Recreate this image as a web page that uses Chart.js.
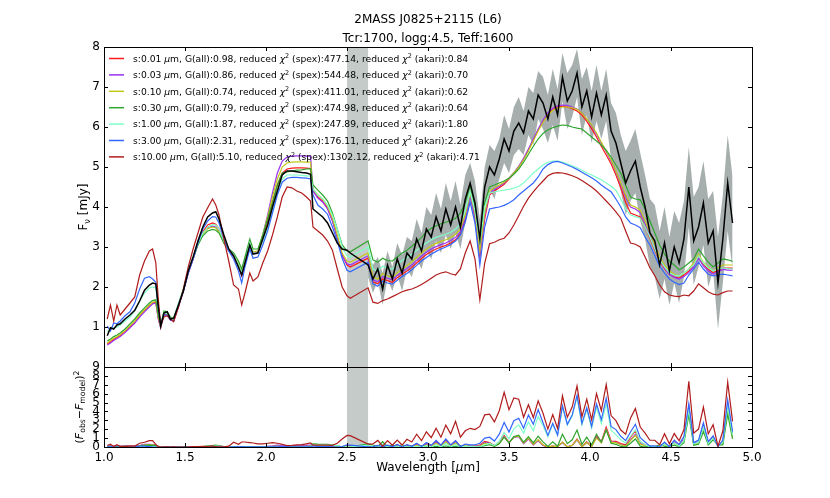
<!DOCTYPE html>
<html>
<head>
<meta charset="utf-8">
<script src="https://cdn.jsdelivr.net/npm/chart.js@4.4.1/dist/chart.umd.min.js"></script>
<style>
  html, body { margin: 0; padding: 0; background: #fff; }
  #wrap { position: relative; width: 830px; height: 498px; }
  #wrap canvas { position: absolute; left: 0; top: 0; }
</style>
</head>
<body>
<div id="wrap">
  <canvas id="spec" width="830" height="498"></canvas>
  <canvas id="resid" width="830" height="498"></canvas>
</div>
<script>
// wavelength grid [um]: SpeX part (1.02-2.52) then AKARI part (2.63-4.88)
const wavelength = [
  1.02, 1.04, 1.06, 1.08, 1.10, 1.13, 1.16, 1.19, 1.22, 1.25, 1.28, 1.30, 1.32, 1.335, 1.35,
  1.37, 1.39, 1.41, 1.43, 1.46, 1.49, 1.52, 1.55, 1.58, 1.61, 1.64, 1.67, 1.69, 1.71, 1.74,
  1.77, 1.80, 1.83, 1.85, 1.87, 1.90, 1.92, 1.95, 1.98, 2.01, 2.04, 2.07, 2.10, 2.13, 2.16,
  2.19, 2.22, 2.25, 2.275, 2.29, 2.32, 2.35, 2.38, 2.41, 2.44, 2.47, 2.50, 2.52,
  2.63, 2.66, 2.69, 2.72, 2.75, 2.78, 2.81, 2.84, 2.87, 2.90, 2.93, 2.96, 2.99,
  3.02, 3.05, 3.08, 3.11, 3.14, 3.17, 3.20, 3.23, 3.26, 3.29, 3.32,
  3.35, 3.38, 3.41, 3.44, 3.47, 3.50, 3.53, 3.56, 3.59, 3.62, 3.65, 3.68, 3.71,
  3.74, 3.77, 3.80, 3.83, 3.86, 3.89, 3.92, 3.95, 3.98, 4.01, 4.04, 4.07, 4.10,
  4.13, 4.16, 4.19, 4.22, 4.25, 4.28, 4.31, 4.34, 4.37, 4.40, 4.43, 4.46, 4.49,
  4.52, 4.55, 4.58, 4.61, 4.64, 4.67, 4.70, 4.73, 4.76, 4.79, 4.82, 4.85, 4.88
];

// observed flux [mJy]
const observed = [
  0.78, 0.98, 0.95, 1.05, 1.08, 1.20, 1.30, 1.42, 1.65, 1.92, 2.05, 2.10, 2.08, 1.50, 1.02,
  1.35, 1.38, 1.20, 1.22, 1.55, 1.90, 2.40, 2.75, 3.15, 3.50, 3.75, 3.85, 3.88, 3.70, 3.30,
  2.95, 2.78, 2.50, 2.30, 2.60, 3.05, 2.82, 2.85, 3.20, 3.55, 4.00, 4.40, 4.80, 4.90, 4.90,
  4.88, 4.86, 4.85, 4.82, 3.95, 3.85, 3.75, 3.60, 3.35, 3.10, 2.95, 2.92, 2.85,
  2.55, 2.20, 2.45, 1.95, 2.55, 2.20, 2.70, 2.35, 2.85, 2.70, 3.20, 2.90, 3.45,
  3.25, 3.75, 3.40, 3.95, 3.55, 4.00, 3.50, 4.20, 4.60, 4.10, 3.20,
  4.50, 5.00, 4.80, 5.20, 5.70, 5.40, 5.90, 6.10, 5.85, 6.40, 6.20, 6.80, 6.60,
  6.20, 6.75, 6.30, 7.25, 6.65, 6.90, 7.35, 6.50, 6.90, 6.25, 6.85, 6.30, 6.80,
  5.90, 5.60, 5.10, 4.60, 4.90, 5.15, 4.50, 4.00, 3.35, 3.15, 2.55, 3.10, 2.40,
  3.00, 2.60, 3.20, 4.50, 3.15, 3.50, 4.10, 3.10, 3.40, 2.10, 3.20, 4.60, 3.60
];

// 1-sigma error of the AKARI spectrum (no band shown for SpeX)
const observedErr = [
  null, null, null, null, null, null, null, null, null, null, null, null, null, null, null,
  null, null, null, null, null, null, null, null, null, null, null, null, null, null, null,
  null, null, null, null, null, null, null, null, null, null, null, null, null, null, null,
  null, null, null, null, null, null, null, null, null, null, null, null, null,
  0.30, 0.35, 0.30, 0.40, 0.35, 0.30, 0.40, 0.45, 0.40, 0.45, 0.50, 0.45, 0.55,
  0.55, 0.60, 0.55, 0.65, 0.60, 0.65, 0.55, 0.60, 0.50, 0.55, 0.50,
  0.50, 0.55, 0.60, 0.50, 0.60, 0.55, 0.60, 0.65, 0.55, 0.60, 0.65, 0.60, 0.65,
  0.60, 0.70, 0.65, 0.60, 0.70, 0.65, 0.60, 0.70, 0.60, 0.65, 0.70, 0.60, 0.65,
  0.70, 0.75, 0.70, 0.80, 0.75, 0.80, 0.85, 0.80, 0.85, 0.90, 0.85, 0.90, 0.85,
  0.90, 1.00, 0.95, 1.00, 1.10, 1.00, 1.05, 1.10, 1.00, 1.15, 1.10, 1.20, 1.15
];

// model spectra, one per grain size
const model001 = [
  0.58, 0.63, 0.69, 0.74, 0.79, 0.89, 1.00, 1.13, 1.28, 1.41, 1.53, 1.60, 1.62, 1.22, 0.99,
  1.32, 1.31, 1.18, 1.16, 1.53, 1.90, 2.35, 2.70, 3.10, 3.38, 3.55, 3.60, 3.57, 3.45, 3.12,
  2.90, 2.76, 2.52, 2.28, 2.60, 3.08, 2.83, 2.86, 3.22, 3.65, 4.12, 4.55, 4.85, 4.95, 4.97,
  4.98, 4.98, 4.97, 4.96, 4.42, 4.25, 4.15, 3.97, 3.67, 3.25, 2.80, 2.55, 2.50,
  2.72, 2.13, 2.08, 2.20, 2.16, 2.12, 2.23, 2.32, 2.40, 2.49, 2.60, 2.71, 2.81,
  2.89, 2.95, 3.00, 3.04, 3.10, 3.18, 3.33, 3.70, 4.33, 3.75, 2.75,
  3.70, 4.30, 4.40, 4.48, 4.57, 4.70, 4.84, 5.00, 5.20, 5.43, 5.68, 5.92, 6.14,
  6.32, 6.44, 6.50, 6.52, 6.50, 6.46, 6.40, 6.30, 6.14, 5.96, 5.75, 5.52, 5.30,
  5.08, 4.80, 4.48, 4.12, 3.85, 3.80, 3.75, 3.50, 3.22, 2.92, 2.65, 2.46, 2.32,
  2.25, 2.22, 2.30, 2.40, 2.55, 2.75, 2.56, 2.45, 2.36, 2.42, 2.48, 2.47, 2.47
];
const model003 = [
  0.55, 0.60, 0.66, 0.71, 0.76, 0.86, 0.98, 1.10, 1.25, 1.38, 1.50, 1.58, 1.60, 1.20, 0.98,
  1.30, 1.30, 1.17, 1.15, 1.52, 1.90, 2.35, 2.70, 3.08, 3.35, 3.48, 3.52, 3.50, 3.40, 3.10,
  2.90, 2.78, 2.55, 2.30, 2.62, 3.10, 2.85, 2.88, 3.30, 3.80, 4.35, 4.85, 5.15, 5.25, 5.27,
  5.28, 5.28, 5.27, 5.27, 4.40, 4.22, 4.12, 3.95, 3.65, 3.22, 2.78, 2.58, 2.55,
  2.78, 2.18, 2.13, 2.26, 2.22, 2.18, 2.29, 2.38, 2.46, 2.55, 2.66, 2.77, 2.87,
  2.95, 3.01, 3.06, 3.10, 3.16, 3.24, 3.38, 3.72, 4.28, 3.78, 2.82,
  3.78, 4.35, 4.44, 4.52, 4.60, 4.72, 4.86, 5.02, 5.22, 5.45, 5.70, 5.95, 6.17,
  6.35, 6.47, 6.53, 6.55, 6.54, 6.50, 6.45, 6.36, 6.20, 6.03, 5.82, 5.60, 5.38,
  5.15, 4.88, 4.57, 4.25, 4.00, 3.95, 3.86, 3.58, 3.28, 2.98, 2.68, 2.48, 2.32,
  2.24, 2.20, 2.26, 2.36, 2.50, 2.72, 2.52, 2.40, 2.32, 2.38, 2.44, 2.42, 2.42
];
const model010 = [
  0.60, 0.66, 0.72, 0.76, 0.81, 0.91, 1.03, 1.15, 1.30, 1.43, 1.55, 1.62, 1.64, 1.25, 1.00,
  1.35, 1.33, 1.20, 1.18, 1.55, 1.93, 2.38, 2.72, 3.08, 3.33, 3.46, 3.50, 3.48, 3.38, 3.10,
  2.92, 2.80, 2.58, 2.35, 2.65, 3.12, 2.88, 2.90, 3.30, 3.75, 4.25, 4.70, 5.00, 5.10, 5.12,
  5.13, 5.13, 5.12, 5.12, 4.45, 4.30, 4.20, 4.02, 3.72, 3.30, 2.85, 2.65, 2.62,
  2.85, 2.25, 2.20, 2.33, 2.28, 2.24, 2.35, 2.45, 2.53, 2.63, 2.74, 2.85, 2.95,
  3.03, 3.09, 3.14, 3.18, 3.24, 3.32, 3.45, 3.80, 4.35, 3.85, 2.90,
  3.85, 4.40, 4.48, 4.55, 4.62, 4.72, 4.85, 5.00, 5.18, 5.40, 5.65, 5.90, 6.12,
  6.30, 6.42, 6.48, 6.50, 6.50, 6.48, 6.44, 6.35, 6.20, 6.05, 5.85, 5.62, 5.40,
  5.18, 4.90, 4.60, 4.30, 4.05, 4.00, 3.92, 3.65, 3.35, 3.05, 2.75, 2.55, 2.40,
  2.32, 2.28, 2.35, 2.45, 2.60, 2.82, 2.62, 2.50, 2.40, 2.48, 2.55, 2.55, 2.55
];
const model030 = [
  0.65, 0.70, 0.76, 0.80, 0.85, 0.95, 1.08, 1.20, 1.35, 1.48, 1.60, 1.66, 1.68, 1.30, 1.05,
  1.40, 1.38, 1.25, 1.22, 1.58, 1.95, 2.40, 2.72, 3.05, 3.28, 3.40, 3.44, 3.42, 3.35, 3.10,
  2.95, 2.85, 2.65, 2.45, 2.75, 3.20, 2.95, 2.95, 3.30, 3.70, 4.10, 4.55, 4.85, 4.88, 4.90,
  4.92, 4.93, 4.95, 4.96, 4.55, 4.42, 4.30, 4.15, 3.85, 3.45, 3.05, 2.90, 2.88,
  3.15, 2.68, 2.62, 2.72, 2.66, 2.65, 2.75, 2.85, 2.92, 3.02, 3.12, 3.24, 3.38,
  3.47, 3.53, 3.58, 3.62, 3.66, 3.72, 3.85, 4.12, 4.52, 4.05, 3.15,
  4.10, 4.50, 4.55, 4.60, 4.65, 4.72, 4.82, 4.95, 5.12, 5.32, 5.52, 5.70, 5.84,
  5.93, 5.98, 6.02, 6.05, 6.04, 6.00, 5.97, 5.95, 5.85, 5.75, 5.65, 5.55, 5.42,
  5.25, 5.05, 4.85, 4.55, 4.25, 4.20, 4.18, 3.95, 3.65, 3.35, 3.05, 2.82, 2.65,
  2.55, 2.43, 2.50, 2.60, 2.70, 2.95, 2.78, 2.62, 2.50, 2.60, 2.70, 2.68, 2.64
];
const model100 = [
  0.88, 0.95, 0.98, 1.00, 1.05, 1.15, 1.25, 1.40, 1.65, 1.85, 1.98, 2.00, 1.98, 1.45, 1.08,
  1.35, 1.33, 1.22, 1.20, 1.58, 1.95, 2.40, 2.75, 3.10, 3.35, 3.50, 3.56, 3.55, 3.45, 3.15,
  2.95, 2.80, 2.55, 2.35, 2.60, 3.10, 2.85, 2.85, 3.15, 3.50, 3.95, 4.40, 4.70, 4.80, 4.80,
  4.80, 4.79, 4.78, 4.77, 4.45, 4.30, 4.20, 4.05, 3.80, 3.45, 3.00, 2.78, 2.75,
  3.00, 2.45, 2.40, 2.52, 2.47, 2.45, 2.56, 2.66, 2.73, 2.82, 2.92, 3.02, 3.10,
  3.18, 3.24, 3.28, 3.32, 3.37, 3.45, 3.58, 3.90, 4.38, 3.90, 3.12,
  4.00, 4.35, 4.38, 4.40, 4.42, 4.44, 4.47, 4.52, 4.60, 4.72, 4.85, 4.95, 5.05,
  5.12, 5.15, 5.15, 5.12, 5.08, 5.03, 4.98, 4.92, 4.85, 4.80, 4.74, 4.68, 4.60,
  4.52, 4.42, 4.20, 3.95, 3.80, 3.76, 3.72, 3.50, 3.25, 2.95, 2.68, 2.50, 2.35,
  2.30, 2.28, 2.35, 2.45, 2.55, 2.78, 2.60, 2.48, 2.40, 2.45, 2.48, 2.46, 2.45
];
const model300 = [
  1.02, 0.90, 1.10, 1.08, 1.15, 1.28, 1.38, 1.60, 1.95, 2.22, 2.26, 2.20, 2.12, 1.50, 1.05,
  1.30, 1.30, 1.18, 1.15, 1.55, 1.90, 2.35, 2.70, 3.10, 3.45, 3.65, 3.76, 3.75, 3.60, 3.20,
  2.90, 2.70, 2.40, 2.10, 2.50, 2.95, 2.72, 2.75, 3.05, 3.40, 3.85, 4.30, 4.62, 4.72, 4.74,
  4.74, 4.73, 4.72, 4.70, 4.30, 4.05, 3.95, 3.82, 3.50, 3.15, 2.72, 2.42, 2.38,
  2.62, 2.08, 2.02, 2.15, 2.10, 2.07, 2.17, 2.26, 2.34, 2.43, 2.54, 2.65, 2.74,
  2.82, 2.89, 2.95, 3.00, 3.06, 3.15, 3.30, 3.62, 4.12, 3.60, 2.55,
  3.50, 3.95, 3.98, 4.00, 4.04, 4.10, 4.18, 4.30, 4.40, 4.50, 4.60, 4.75, 4.95,
  5.06, 5.12, 5.14, 5.10, 5.05, 5.00, 4.94, 4.87, 4.80, 4.73, 4.65, 4.55, 4.46,
  4.38, 4.20, 4.00, 3.75, 3.60, 3.55, 3.48, 3.25, 3.05, 2.78, 2.52, 2.35, 2.20,
  2.12, 2.06, 2.10, 2.30, 2.45, 2.62, 2.45, 2.32, 2.28, 2.30, 2.32, 2.30, 2.28
];
const model1000 = [
  1.20, 1.55, 1.15, 1.55, 1.30, 1.45, 1.60, 1.75, 2.30, 2.65, 2.90, 2.95, 2.60, 1.70, 1.05,
  1.25, 1.28, 1.20, 1.13, 1.50, 1.95, 2.50, 2.95, 3.35, 3.75, 3.98, 4.20, 4.05, 3.80, 3.20,
  2.65, 2.05, 1.95, 1.55, 1.85, 2.35, 2.15, 2.25, 2.60, 2.90, 3.30, 3.75, 4.25, 4.50, 4.48,
  4.40, 4.35, 4.25, 4.15, 3.50, 3.40, 3.30, 3.15, 2.92, 2.45, 2.00, 1.78, 1.72,
  1.98, 1.62, 1.59, 1.66, 1.70, 1.76, 1.82, 1.88, 1.92, 1.95, 2.00, 2.06, 2.14,
  2.22, 2.30, 2.35, 2.38, 2.33, 2.30, 2.45, 2.85, 3.15, 2.70, 1.68,
  2.60, 3.08, 3.12, 3.18, 3.22, 3.35, 3.55, 3.78, 4.02, 4.22, 4.38, 4.52, 4.65,
  4.78, 4.84, 4.86, 4.85, 4.82, 4.78, 4.73, 4.66, 4.58, 4.50, 4.40, 4.28, 4.15,
  4.02, 3.88, 3.72, 3.40, 3.10, 3.07, 3.00, 2.75, 2.48, 2.28, 2.05, 1.88, 1.80,
  1.77, 1.76, 1.80, 1.78, 1.90, 2.08, 1.98, 1.88, 1.82, 1.80, 1.86, 1.90, 1.90
];

// legend values
const grainSize = [0.01, 0.03, 0.10, 0.30, 1.00, 3.00, 10.00];
const gAll = [0.98, 0.86, 0.74, 0.79, 1.87, 2.31, 5.10];
const chiSpex = [477.14, 544.48, 411.01, 474.98, 247.89, 176.11, 1302.12];
const chiAkari = [0.84, 0.70, 0.62, 0.64, 1.80, 2.26, 4.71];
const models = [model001, model003, model010, model030, model100, model300, model1000];
const colors = ['#ff1a1a', '#9a30f5', '#c2c81a', '#30a530', '#80ffc8', '#3366ff', '#b01c1c'];

const xTicks = [1.0, 1.5, 2.0, 2.5, 3.0, 3.5, 4.0, 4.5, 5.0];
const specTicks = [0, 1, 2, 3, 4, 5, 6, 7, 8];
const residTicks = [0, 1, 2, 3, 4, 5, 6, 7, 8, 9];
const gapBand = [2.50, 2.63];

const FAMILY = '"DejaVu Sans", "Liberation Sans", sans-serif';

const pts = ys => wavelength.map((x, i) => ({ x: x, y: ys[i] }));

// text with italic / sub / superscript pieces, like matplotlib mathtext
function drawRich(ctx, segs, x, y, size, align) {
  const parts = segs.map(([t, k]) => {
    const small = k === 'sub' || k === 'sup';
    const f = (k === 'i' ? 'italic ' : '') + (small ? size * 0.7 : size) + 'px ' + FAMILY;
    ctx.font = f;
    return { t, f, w: ctx.measureText(t).width, dy: k === 'sup' ? -size * 0.4 : k === 'sub' ? size * 0.22 : 0 };
  });
  const total = parts.reduce((a, p) => a + p.w, 0);
  let cx = align === 'center' ? x - total / 2 : x;
  ctx.textAlign = 'left';
  ctx.textBaseline = 'alphabetic';
  parts.forEach(p => { ctx.font = p.f; ctx.fillText(p.t, cx, y + p.dy); cx += p.w; });
}

// gray band over the gap between the two spectra, frame and inward ticks
function panelPlugin(yTicks) {
  return {
    id: 'panel',
    beforeDatasetsDraw(chart) {
      const { ctx, chartArea: a, scales } = chart;
      const x0 = scales.x.getPixelForValue(gapBand[0]);
      const x1 = scales.x.getPixelForValue(gapBand[1]);
      ctx.save();
      ctx.fillStyle = '#c4cbc9';
      ctx.fillRect(x0, a.top, x1 - x0, a.bottom - a.top);
      ctx.restore();
    },
    afterDraw(chart) {
      const { ctx, chartArea: a, scales } = chart;
      ctx.save();
      ctx.strokeStyle = '#000';
      ctx.lineWidth = 1;
      ctx.beginPath();
      xTicks.forEach(v => {
        const px = Math.round(scales.x.getPixelForValue(v)) + 0.5;
        ctx.moveTo(px, a.top); ctx.lineTo(px, a.top + 4);
        ctx.moveTo(px, a.bottom); ctx.lineTo(px, a.bottom - 4);
      });
      yTicks.forEach(v => {
        const py = Math.round(scales.y.getPixelForValue(v)) + 0.5;
        ctx.moveTo(a.left, py); ctx.lineTo(a.left + 4, py);
        ctx.moveTo(a.right, py); ctx.lineTo(a.right - 4, py);
      });
      ctx.stroke();
      ctx.strokeRect(Math.round(a.left) + 0.5, Math.round(a.top) + 0.5,
        Math.round(a.right - a.left), Math.round(a.bottom - a.top));
      ctx.restore();
    }
  };
}

const textPlugin = {
  id: 'texts',
  afterDraw(chart) {
    const ctx = chart.ctx;
    ctx.save();
    ctx.fillStyle = '#000';
    // title
    drawRich(ctx, [['2MASS J0825+2115 (L6)', 'n']], 428, 23, 12, 'center');
    drawRich(ctx, [['Tcr:1700, logg:4.5, Teff:1600', 'n']], 428, 42, 12, 'center');
    // legend
    for (let i = 0; i < models.length; i++) {
      const yRow = 58.5 + i * 16.4;
      ctx.strokeStyle = colors[i];
      ctx.lineWidth = 1.5;
      ctx.beginPath();
      ctx.moveTo(109, yRow); ctx.lineTo(124, yRow);
      ctx.stroke();
      drawRich(ctx, [
        ['s:' + grainSize[i].toFixed(2) + ' ', 'n'], ['\u03bc', 'i'],
        ['m, G(all):' + gAll[i].toFixed(2) + ', reduced ', 'n'], ['\u03c7', 'i'], ['2', 'sup'],
        [' (spex):' + chiSpex[i].toFixed(2) + ', reduced ', 'n'], ['\u03c7', 'i'], ['2', 'sup'],
        [' (akari):' + chiAkari[i].toFixed(2), 'n']
      ], 133, yRow + 3.3, 9.2, 'left');
    }
    // y label
    ctx.translate(83, 207);
    ctx.rotate(-Math.PI / 2);
    drawRich(ctx, [['F', 'n'], ['\u03bd', 'sub'], [' [mJy]', 'n']], 0, 4, 12, 'center');
    ctx.restore();
  }
};

const residTextPlugin = {
  id: 'residTexts',
  afterDraw(chart) {
    const ctx = chart.ctx;
    ctx.save();
    ctx.fillStyle = '#000';
    drawRich(ctx, [['Wavelength [', 'n'], ['\u03bc', 'i'], ['m]', 'n']], 428, 471, 12, 'center');
    ctx.translate(79, 407);
    ctx.rotate(-Math.PI / 2);
    drawRich(ctx, [['(', 'n'], ['F', 'i'], ['obs', 'sub'], ['\u2212', 'n'], ['F', 'i'],
      ['model', 'sub'], [')', 'n'], ['2', 'sup']], 0, 4, 11, 'center');
    ctx.restore();
  }
};

const tickFont = { family: FAMILY, size: 12 };
const lineStyle = { pointRadius: 0, tension: 0, fill: false, spanGaps: false };

// upper panel: spectra
const upper = observed.map((v, i) => observedErr[i] == null ? null : v + observedErr[i]);
const lower = observed.map((v, i) => observedErr[i] == null ? null : v - observedErr[i]);

const specSets = [
  Object.assign({ data: pts(observed), borderColor: '#000', borderWidth: 1.5 }, lineStyle)
];
for (let i = models.length - 1; i >= 0; i--) {
  specSets.push(Object.assign({ data: pts(models[i]), borderColor: colors[i], borderWidth: 1.2 }, lineStyle));
}
specSets.push({ data: pts(upper), borderWidth: 0, pointRadius: 0, tension: 0, fill: '+1', backgroundColor: '#a6afae' });
specSets.push({ data: pts(lower), borderWidth: 0, pointRadius: 0, tension: 0, fill: false });

new Chart(document.getElementById('spec'), {
  type: 'line',
  data: { datasets: specSets },
  options: {
    responsive: false,
    animation: false,
    events: [],
    layout: { padding: { top: 47, right: 78, bottom: 131, left: 0 } },
    plugins: { legend: { display: false }, tooltip: { enabled: false } },
    scales: {
      x: { type: 'linear', min: 1, max: 5, display: false },
      y: {
        min: 0, max: 8,
        afterFit(s) { s.width = 104; },
        ticks: { stepSize: 1, padding: 4, color: '#000', font: tickFont, callback: v => v === 0 ? '' : v },
        grid: { display: false, drawTicks: false },
        border: { display: false }
      }
    }
  },
  plugins: [panelPlugin(specTicks), textPlugin]
});

// lower panel: squared residuals of each model
const residSets = [];
for (let i = models.length - 1; i >= 0; i--) {
  const r = observed.map((v, k) => models[i][k] == null ? null : (v - models[i][k]) ** 2);
  residSets.push(Object.assign({ data: pts(r), borderColor: colors[i], borderWidth: 1.2 }, lineStyle));
}

new Chart(document.getElementById('resid'), {
  type: 'line',
  data: { datasets: residSets },
  options: {
    responsive: false,
    animation: false,
    events: [],
    layout: { padding: { top: 367, right: 78, bottom: 0, left: 0 } },
    plugins: { legend: { display: false }, tooltip: { enabled: false } },
    scales: {
      x: {
        type: 'linear', min: 1, max: 5,
        afterFit(s) { s.height = 51; },
        ticks: { stepSize: 0.5, padding: 4, color: '#000', font: tickFont, maxRotation: 0, autoSkip: false,
          callback: v => Number(v).toFixed(1) },
        grid: { display: false, drawTicks: false },
        border: { display: false }
      },
      y: {
        min: 0, max: 9,
        afterFit(s) { s.width = 104; },
        ticks: { stepSize: 1, padding: 4, color: '#000', font: tickFont, autoSkip: false },
        grid: { display: false, drawTicks: false },
        border: { display: false }
      }
    }
  },
  plugins: [panelPlugin(residTicks), residTextPlugin]
});
</script>
</body>
</html>
